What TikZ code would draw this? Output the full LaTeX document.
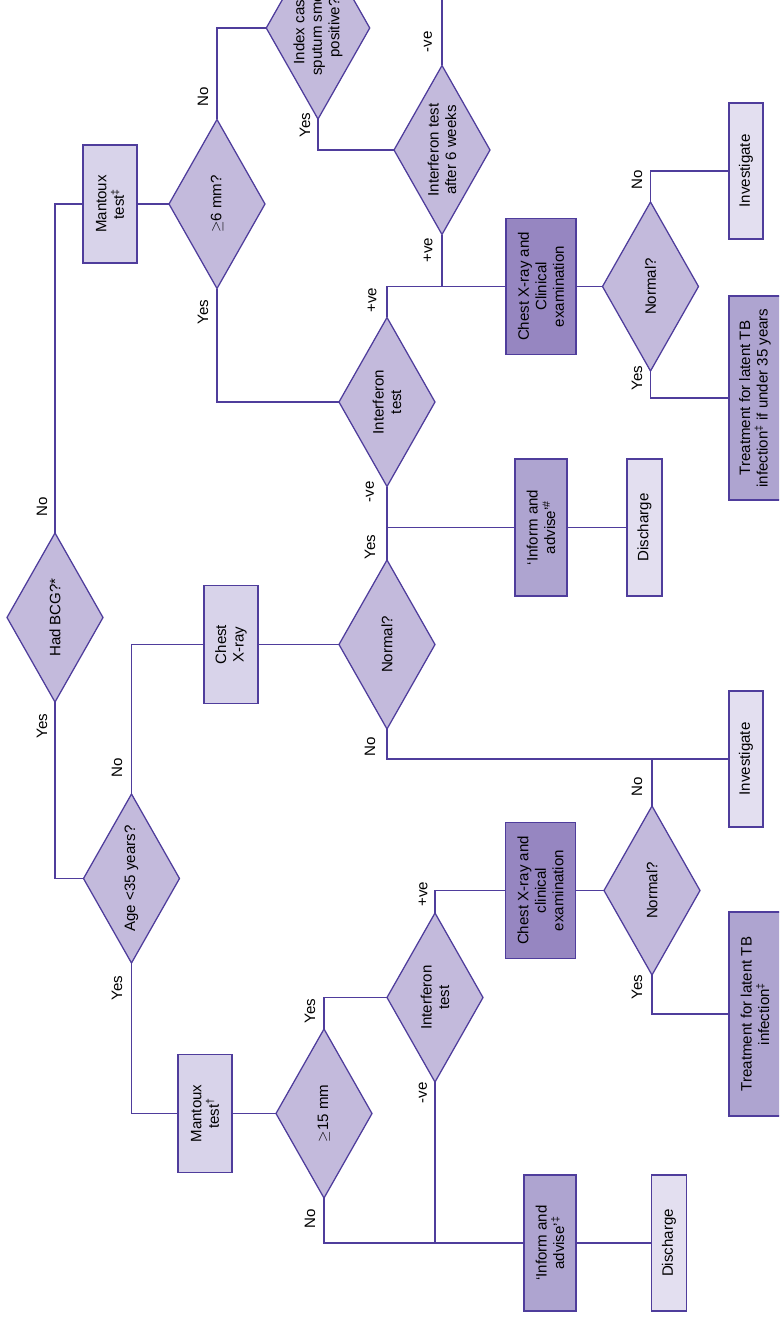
\documentclass[tikz,border=0pt]{standalone}
\usepackage{fontspec}
\setmainfont{Liberation Sans}
\usetikzlibrary{shapes.geometric}
\definecolor{ln}{HTML}{4F3D9C}
\definecolor{dfill}{HTML}{C3BADC}
\definecolor{lbox}{HTML}{D8D3EA}
\definecolor{xlbox}{HTML}{E3DFF0}
\definecolor{mbox}{HTML}{AEA4D0}
\definecolor{dbox}{HTML}{9686C1}
\tikzset{
  base/.style={draw=ln, line width=0.95pt, rotate=90, inner sep=0pt, outer sep=0pt, align=center,
    font=\fontsize{11.3}{13.2}\selectfont},
  dec/.style={base, shape=diamond, fill=dfill, aspect=1.76, minimum width=126.75pt, minimum height=72pt},
  bx/.style 2 args={base, shape=rectangle, minimum width=#1, minimum height=#2},
  lightbox/.style={fill=lbox},
  palebox/.style={fill=xlbox},
  midbox/.style={fill=mbox},
  darkbox/.style={fill=dbox},
  conn/.style={draw=ln, line width=0.95pt},
  lab/.style={rotate=90, inner sep=0pt, font=\fontsize{11.3}{13.2}\selectfont}
}
\begin{document}
\begin{tikzpicture}[x=0.75pt, y=-0.75pt]
\useasboundingbox (0,0) rectangle (779,1321);
\clip (0,0) rectangle (779,1321);
% decisions
\node[dec] (bcg) at (55,617.5) {Had BCG?*};
\node[dec] (d6) at (217,204) {$\geq$6 mm?};
\node[dec] (idx) at (318,28) {Index case\\sputum smear\\positive?};
\node[dec] (i6w) at (442,150) {Interferon test\\after 6 weeks};
\node[dec] (iu) at (387,402) {Interferon\\test};
\node[dec] (n1) at (650.5,286.5) {Normal?};
\node[dec] (nm) at (387,644.5) {Normal?};
\node[dec] (age) at (131.5,878.5) {Age <35 years?};
\node[dec] (d15) at (324,1113.5) {$\geq$15 mm};
\node[dec] (il) at (435,997.5) {Interferon\\test};
\node[dec] (nl) at (652,890.5) {Normal?};
% boxes
\node[bx={88.5pt}{40.5pt}, lightbox] (m1) at (110,204) {Mantoux\\test\textsuperscript{‡}};
\node[bx={88.5pt}{40.5pt}, lightbox] (m2) at (205,1113.5) {Mantoux\\test\textsuperscript{†}};
\node[bx={88.5pt}{40.5pt}, lightbox] (cxr) at (231,644.5) {Chest\\X-ray};
\node[bx={102pt}{52.5pt}, darkbox] (cx1) at (541,286.5) {Chest X-ray and\\Clinical\\examination};
\node[bx={102pt}{52.5pt}, darkbox] (cxl) at (540.5,890.5) {Chest X-ray and\\clinical\\examination};
\node[bx={102.75pt}{39pt}, midbox] (ia1) at (541,527.5) {‘Inform and\\advise’\textsuperscript{\#}};
\node[bx={102pt}{39pt}, midbox] (ial) at (550,1243) {‘Inform and\\advise’\textsuperscript{‡}};
\node[bx={102.75pt}{26.25pt}, palebox] (dc1) at (644.5,527.5) {Discharge};
\node[bx={102pt}{26.25pt}, palebox] (dcl) at (669,1243) {Discharge};
\node[bx={102pt}{25.5pt}, palebox] (inv1) at (746,171) {Investigate};
\node[bx={102pt}{25.5pt}, palebox] (inv2) at (746,759) {Investigate};
\node[bx={153pt}{39pt}, midbox] (tr1) at (755,398) {Treatment for latent TB\\infection\textsuperscript{‡} if under 35 years};
\node[bx={153pt}{39pt}, midbox] (tr2) at (755,1014) {Treatment for latent TB\\infection\textsuperscript{‡}};
\coordinate (topout) at (442,-20);
% connectors
\draw[conn] (bcg) |- (m1);
\draw[conn] (m1) -- (d6);
\draw[conn] (d6) |- (idx);
\draw[conn] (idx) |- (i6w);
\draw[conn] (i6w) -- (topout);
\draw[conn] (i6w) |- (cx1);
\draw[conn] (d6) |- (iu);
\draw[conn] (iu) |- (cx1);
\draw[conn] (cx1) -- (n1);
\draw[conn] (n1) |- (inv1);
\draw[conn] (n1) |- (tr1);
\draw[conn] (iu) |- (ia1);
\draw[conn] (nm) |- (ia1);
\draw[conn] (ia1) -- (dc1);
\draw[conn] (cxr) -- (nm);
\draw[conn] (age) |- (cxr);
\draw[conn] (bcg) |- (age);
\draw[conn] (nm) |- (inv2);
\draw[conn] (nl) |- (inv2);
\draw[conn] (nl) |- (tr2);
\draw[conn] (age) |- (m2);
\draw[conn] (m2) -- (d15);
\draw[conn] (d15) |- (il);
\draw[conn] (il) |- (cxl);
\draw[conn] (cxl) -- (nl);
\draw[conn] (d15) |- (ial);
\draw[conn] (il) |- (ial);
\draw[conn] (ial) -- (dcl);
% labels
\node[lab] (l1) at (42,507) {No};
\node[lab] (l2) at (42,726) {Yes};
\node[lab] (l3) at (117,768) {No};
\node[lab] (l4) at (117,988) {Yes};
\node[lab] (l5) at (203,97) {No};
\node[lab] (l6) at (203,312) {Yes};
\node[lab] (l7) at (305,125) {Yes};
\node[lab] (l8) at (372,300) {+ve};
\node[lab] (l9) at (428,42) {-ve};
\node[lab] (l10) at (428,250) {+ve};
\node[lab] (l11) at (637,180) {No};
\node[lab] (l12) at (637,378) {Yes};
\node[lab] (l13) at (370,492) {-ve};
\node[lab] (l14) at (370,547) {Yes};
\node[lab] (l15) at (370,747) {No};
\node[lab] (l16) at (637,787) {No};
\node[lab] (l17) at (637,987) {Yes};
\node[lab] (l18) at (310,1011) {Yes};
\node[lab] (l19) at (310,1219) {No};
\node[lab] (l20) at (423,894) {+ve};
\node[lab] (l21) at (423,1093) {-ve};
\end{tikzpicture}
\end{document}
